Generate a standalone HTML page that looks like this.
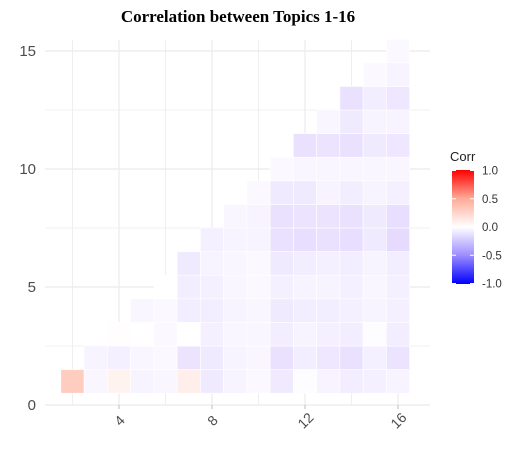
<!DOCTYPE html>
<html><head><meta charset="utf-8"><style>
body{margin:0;background:#fff;width:517px;height:452px;overflow:hidden}
svg text{font-family:"Liberation Sans",sans-serif}
</style></head><body>
<svg id="chart" width="517" height="452">
<defs><linearGradient id="lg" x1="0" y1="1" x2="0" y2="0">
<stop offset="0" stop-color="#0000ff"/><stop offset="0.25" stop-color="#9c8cff"/><stop offset="0.5" stop-color="#ffffff"/><stop offset="0.75" stop-color="#ffaa96"/><stop offset="1" stop-color="#ff0000"/></linearGradient></defs>
<text x="238" y="22" text-anchor="middle" style="font-family:'Liberation Serif',serif;font-weight:bold;font-size:17px">Correlation between Topics 1-16</text>
<g id="grid"></g><g id="cells"></g><g id="axes"></g>
<g>
<text x="450" y="161" font-size="13" fill="#222">Corr</text>
<rect x="452" y="170" width="22" height="114" fill="url(#lg)"/>
<g id="leg"></g></g>
</svg>
<script>
const xCats=[2,3,4,5,6,7,8,9,10,11,12,13,14,15,16];
const rows={
1:[0.3,-0.03,0.07,-0.04,-0.03,0.1,-0.07,-0.04,-0.02,-0.07,-0.01,-0.04,-0.06,-0.05,-0.04],
2:[-0.04,-0.05,-0.03,-0.02,-0.09,-0.07,-0.04,-0.03,-0.1,-0.06,-0.08,-0.1,-0.05,-0.09],
3:[0.01,0,-0.02,0,-0.05,-0.03,-0.03,-0.06,-0.04,-0.05,-0.06,-0.01,-0.06],
4:[-0.03,-0.02,-0.06,-0.06,-0.04,-0.03,-0.07,-0.06,-0.06,-0.05,-0.04,-0.05],
5:[0,-0.06,-0.05,-0.03,-0.02,-0.05,-0.04,-0.04,-0.05,-0.03,-0.05],
6:[-0.07,-0.04,-0.03,-0.02,-0.07,-0.06,-0.05,-0.06,-0.04,-0.06],
7:[-0.05,-0.04,-0.04,-0.1,-0.11,-0.1,-0.11,-0.07,-0.12],
8:[-0.03,-0.04,-0.1,-0.09,-0.09,-0.1,-0.07,-0.11],
9:[-0.02,-0.07,-0.07,-0.04,-0.06,-0.04,-0.05],
10:[-0.02,-0.03,-0.03,-0.03,-0.03,-0.03],
11:[-0.1,-0.09,-0.1,-0.07,-0.08],
12:[-0.03,-0.07,-0.04,-0.04],
13:[-0.1,-0.06,-0.08],
14:[-0.02,-0.04],
15:[-0.02]};
const xTicks=[4,8,12,16], yTicks=[0,5,10,15];
const legVals=[1.0,0.5,0.0,-0.5,-1.0];
const sx=v=>26+23.25*v, sy=v=>405-23.6*v;
const ns='http://www.w3.org/2000/svg';
function mk(t,a,p){const e=document.createElementNS(ns,t);for(const k in a)e.setAttribute(k,a[k]);p.appendChild(e);return e;}
function col(v){const lerp=(a,b,t)=>a.map((x,i)=>Math.round(x+(b[i]-x)*t));let c;
 if(v>=0){c=v<0.5?lerp([255,255,255],[255,170,150],v/0.5):lerp([255,170,150],[255,0,0],(v-0.5)/0.5);}
 else{const t=-v;c=t<0.5?lerp([255,255,255],[150,105,255],t/0.5):lerp([150,105,255],[0,0,255],(t-0.5)/0.5);}
 return `rgb(${c})`;}
const G=document.getElementById('grid');
for(let y=0;y<=15;y+=2.5){const l=mk('line',{x1:45,x2:430,y1:sy(y),y2:sy(y),stroke:'#ebebeb','stroke-width':y%5?0.8:1.2},G);

}
for(let x=2;x<=16;x+=2){const l=mk('line',{x1:sx(x),x2:sx(x),y1:40,y2:405,stroke:'#ebebeb','stroke-width':x%4?0.8:1.2},G);

}
const C=document.getElementById('cells');
for(const y in rows){rows[y].forEach((v,i)=>{const x=(+y)+1+i;
 const r=mk('rect',{x:sx(x-0.5),y:sy(+y+0.5),width:23.25,height:23.6,fill:col(v),stroke:'#fff','stroke-width':0.6},C);
 
 });}
const A=document.getElementById('axes');
xTicks.forEach(t=>{const tk=mk('line',{x1:sx(t),x2:sx(t),y1:405,y2:409,stroke:'#bbb'},A);
 
 
 const tx=mk('text',{x:sx(t)+4,y:424,'text-anchor':'middle','font-size':14,fill:'#4d4d4d',transform:`rotate(-45 ${sx(t)+4} 424)`},A);tx.textContent=t;
 
 });
yTicks.forEach(t=>{const tx=mk('text',{x:36,y:sy(t)+5,'text-anchor':'end','font-size':15,fill:'#4d4d4d'},A);tx.textContent=t;
 
 });
const L=document.getElementById('leg');
legVals.forEach(v=>{const y=227-v*56.5;
 mk('line',{x1:452,x2:456,y1:y,y2:y,stroke:'#fff'},L);mk('line',{x1:470,x2:474,y1:y,y2:y,stroke:'#fff'},L);
 const tx=mk('text',{x:482,y:y+4,'font-size':11.5,fill:'#333'},L);tx.textContent=v.toFixed(1);
 
 });
</script>
</body></html>
